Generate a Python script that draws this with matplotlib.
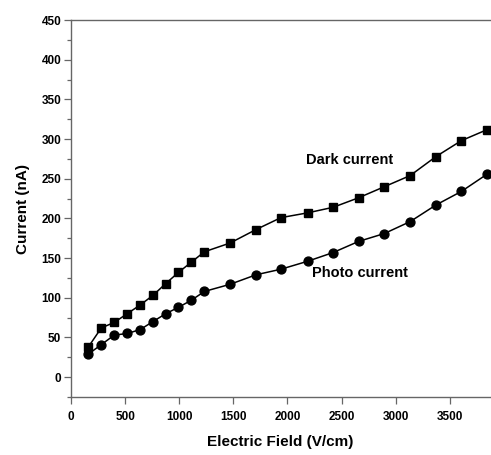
import numpy as np
import matplotlib as mpl
import matplotlib.pyplot as plt
from matplotlib.ticker import MultipleLocator

mpl.rcParams.update({"font.family": ["Liberation Sans", "DejaVu Sans"], "font.weight": "bold"})

# --- values ---
field = [160, 280, 400, 520, 640, 757, 876, 993, 1113, 1233, 1470, 1710, 1940,
         2186, 2422, 2657, 2896, 3134, 3373, 3607, 3847]
dark = [38, 62, 69, 80, 91, 103, 118, 132, 145, 158, 169, 186, 201,
        207, 214, 226, 240, 254, 278, 298, 312]
photo = [29, 41, 53, 55, 60, 70, 80, 88, 97, 108, 117, 129, 136,
         146, 157, 171, 181, 196, 217, 234, 256]

fig = plt.figure(figsize=(4.91, 4.55), dpi=100)
ax = fig.add_axes([0.1446, 0.1275, 0.853, 0.8285])

ax.plot(field, dark, "-s", color="black", lw=1.1, ms=5.8)
ax.plot(field, photo, "-o", color="black", lw=1.1, ms=6.4)

ax.text(2574, 274, "Dark current", fontsize=10.5, fontweight="bold", ha="center", va="center")
ax.text(2666, 131, "Photo current", fontsize=10.5, fontweight="bold", ha="center", va="center")

ax.set_xlim(0, 3870)
ax.set_ylim(-25, 450)
ax.xaxis.set_major_locator(MultipleLocator(500))
ax.yaxis.set_major_locator(MultipleLocator(50))
ax.yaxis.set_minor_locator(MultipleLocator(25))
ax.set_yticks(np.arange(0, 451, 50))

for s in ["left", "bottom", "top"]:
    ax.spines[s].set_color("#666666")
    ax.spines[s].set_linewidth(1.0)
ax.spines["right"].set_visible(False)
ax.tick_params(which="both", color="#666666", width=0.9, labelsize=8.5)
ax.tick_params(which="major", length=5)
ax.tick_params(which="minor", length=3)
ax.tick_params(axis="x", pad=5)
ax.tick_params(axis="y", pad=2)
for lab in ax.get_xticklabels() + ax.get_yticklabels():
    lab.set_fontweight("bold")

ax.set_xlabel("Electric Field (V/cm)", fontsize=11, fontweight="bold", labelpad=9)
ax.set_ylabel("Current (nA)", fontsize=11, fontweight="bold", labelpad=8)

fig.savefig("out.png", dpi=100)
